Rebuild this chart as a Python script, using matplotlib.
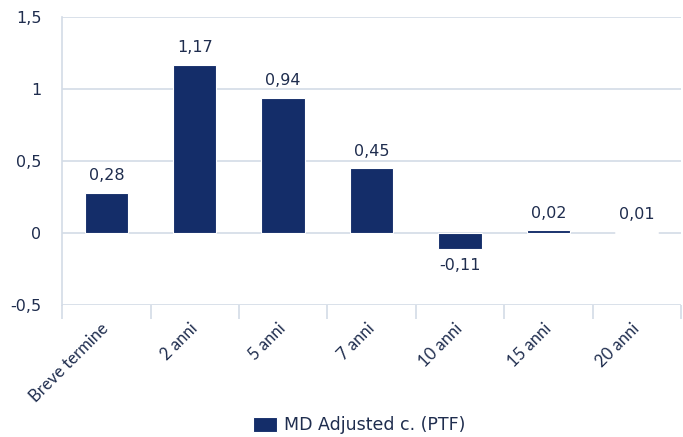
import matplotlib.pyplot as plt
import numpy as np

categories = ["Breve termine", "2 anni", "5 anni", "7 anni", "10 anni", "15 anni", "20 anni"]
values = [0.28, 1.17, 0.94, 0.45, -0.11, 0.02, 0.01]
labels = ["0,28", "1,17", "0,94", "0,45", "-0,11", "0,02", "0,01"]
yticks = [-0.5, 0, 0.5, 1, 1.5]
ytick_labels = ["-0,5", "0", "0,5", "1", "1,5"]

bar_color = "#142d69"
text_color = "#1f2d4e"
grid_color = "#d3dbe6"
num_font = "DejaVu Sans"
cat_font = "Lato"


def main():
    plt.rcParams["font.family"] = [num_font]
    fig = plt.figure(figsize=(6.83, 4.37), dpi=100)
    ax = fig.add_axes([0.091, 0.302, 0.906, 0.659])

    x = np.arange(len(categories))
    bars = ax.bar(x, values, width=0.49, color=bar_color, edgecolor="white",
                  linewidth=0.8, label="MD Adjusted c. (PTF)", zorder=3)

    for b, v, lab in zip(bars, values, labels):
        cx = b.get_x() + b.get_width() / 2
        if v >= 0:
            ax.text(cx, v + 0.065, lab, ha="center", va="bottom",
                    fontsize=11.5, color=text_color, family=num_font)
        else:
            ax.text(cx, v - 0.065, lab, ha="center", va="top",
                    fontsize=11.5, color=text_color, family=num_font)

    ax.set_xlim(-0.5, len(categories) - 0.5)
    ax.set_ylim(-0.5, 1.5)
    ax.set_yticks(yticks)
    ax.set_yticklabels(ytick_labels, fontsize=11.5, color=text_color, family=num_font)
    ax.tick_params(axis="y", length=0, pad=15)
    ax.grid(axis="y", color=grid_color, linewidth=1.2, zorder=0)

    ax.set_xticks(x)
    ax.set_xticklabels(categories, rotation=45, ha="right", va="center",
                       rotation_mode="anchor", fontsize=12, color=text_color,
                       family=cat_font)
    ax.tick_params(axis="x", which="major", length=0, pad=15)
    ax.set_xticks(np.arange(-0.5, len(categories), 1.0), minor=True)
    ax.tick_params(axis="x", which="minor", length=10, color=grid_color, width=1.2)

    for side in ["top", "right", "bottom"]:
        ax.spines[side].set_visible(False)
    ax.spines["left"].set_color(grid_color)
    ax.spines["left"].set_linewidth(1.2)
    ax.spines["left"].set_bounds(-0.5, 1.5)

    leg = fig.legend(loc="lower center", bbox_to_anchor=(0.526, -0.03), frameon=False,
                     prop={"family": num_font, "size": 12.5}, handlelength=1.4,
                     handleheight=1.0, handletextpad=0.4)
    for t in leg.get_texts():
        t.set_color(text_color)

    fig.savefig("out.png", dpi=100)


if __name__ == "__main__":
    main()
